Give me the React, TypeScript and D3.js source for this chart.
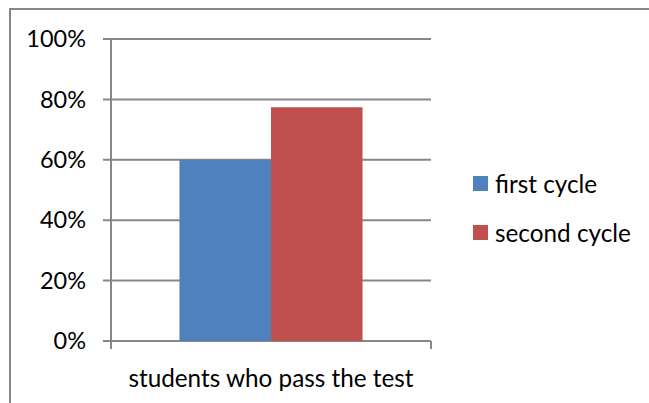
import React from "react";
import * as d3 from "d3";

const categories = ["students who pass the test"];
const seriesNames = ["first cycle", "second cycle"];
const seriesValues = [0.6, 0.774];
const seriesColors = ["#4f81bd", "#c0504d"];
const yTicks = [0, 0.2, 0.4, 0.6, 0.8, 1.0];

const W = 649;
const H = 403;
const plot = { left: 111, right: 431, top: 39, bottom: 341 };
const FONT = "Lato, 'Open Sans', sans-serif";
const grid = "#878787";

export default function App() {
  const y = d3.scaleLinear().domain([0, 1]).range([plot.bottom, plot.top]);
  const x0 = d3.scaleBand().domain(categories).range([plot.left, plot.right]).paddingInner(0).paddingOuter(0.374);
  const x1 = d3.scaleBand().domain(seriesNames).range([0, x0.bandwidth()]);
  const fmt = d3.format(".0%");
  return (
    <svg width={W} height={H} style={{ position: "absolute", left: 0, top: 0, background: "#fff" }} fontFamily={FONT}>
      <rect x={0} y={0} width={W} height={H} fill="#fff" />
      {/* outer border */}
      <path d={`M10,${H + 5}V9H${W + 5}`} fill="none" stroke="#878787" strokeWidth={2} />
      {yTicks.map((t) => (
        <g key={t}>
          <line x1={plot.left - 8} x2={plot.right} y1={y(t)} y2={y(t)} stroke={grid} strokeWidth={2} />
          <text x={86} y={y(t)} dy="0.35em" textAnchor="end" fontSize={23.5} fill="#000">
            {fmt(t)}
          </text>
        </g>
      ))}
      {categories.map((c) =>
        seriesNames.map((s, i) => (
          <rect
            key={c + s}
            x={(x0(c) ?? 0) + (x1(s) ?? 0)}
            y={y(seriesValues[i])}
            width={x1.bandwidth()}
            height={y(0) - y(seriesValues[i])}
            fill={seriesColors[i]}
          />
        ))
      )}
      <line x1={plot.left} x2={plot.left} y1={plot.top} y2={plot.bottom + 8} stroke={grid} strokeWidth={2} />
      <line x1={plot.right} x2={plot.right} y1={plot.bottom} y2={plot.bottom + 8} stroke={grid} strokeWidth={2} />
      {categories.map((c) => (
        <text key={c} x={(x0(c) ?? 0) + x0.bandwidth() / 2} y={387} textAnchor="middle" fontSize={24.3} fill="#000">
          {c}
        </text>
      ))}
      {seriesNames.map((s, i) => (
        <g key={s} transform={`translate(473, ${176 + i * 49})`}>
          <rect x={0} y={0} width={15} height={15} fill={seriesColors[i]} />
          <text x={22} y={8} dy="0.35em" fontSize={24.3} fill="#000">
            {s}
          </text>
        </g>
      ))}
    </svg>
  );
}
